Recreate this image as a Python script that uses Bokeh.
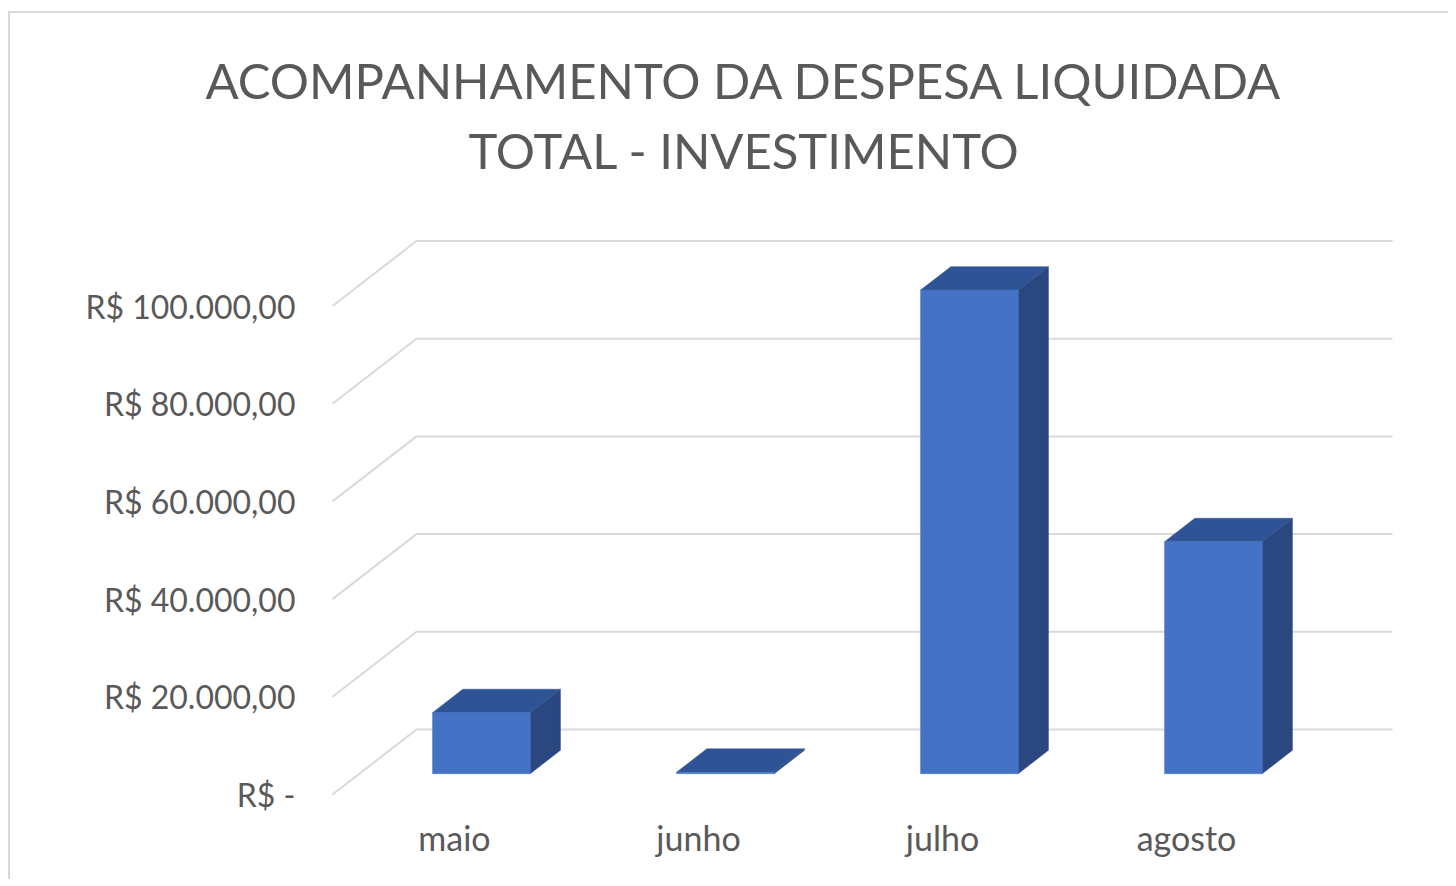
from bokeh.plotting import figure
from bokeh.models import FixedTicker, Title
from bokeh.embed import file_html
from bokeh.resources import INLINE

# ---------------- data ----------------
meses = ["maio", "junho", "julho", "agosto"]
despesa = [12500, 300, 99000, 47500]
y_ticks = [0, 20000, 40000, 60000, 80000, 100000]
titulo = ["ACOMPANHAMENTO DA DESPESA LIQUIDADA", "TOTAL - INVESTIMENTO"]


def brl(v):
    if v == 0:
        return "R$ -"
    s = f"{v:,.2f}".replace(",", "X").replace(".", ",").replace("X", ".")
    return "R$ " + s


y_tick_labels = [brl(v) for v in y_ticks]

# ---------------- geometry (pseudo-3D projection) ----------------
PX_PER_CAT = 244.0
UNITS_PER_PX = 20000 / 97.7
DEPTH_X = 84 / PX_PER_CAT          # full floor depth, x shift (category units)
DEPTH_Y = 65 * UNITS_PER_PX        # full floor depth, y shift (value units)
D0, D1 = 0.32, 0.68                # bar depth span
HALF_W = 0.20
FRONT_LEFT_PAGE = 332
ZERO_PAGE = 794
OFFX, OFFY = 10, 13                # canvas origin on the page

FRAME_L, FRAME_R, FRAME_T, FRAME_B = 308, 1420, 188, 800


def ux(px):
    return (px - FRONT_LEFT_PAGE) / PX_PER_CAT - 0.5


def vy(py):
    return (ZERO_PAGE - py) * UNITS_PER_PX


W, H = 1440, 868
p = figure(width=W, height=H, output_backend="svg", toolbar_location=None,
           x_range=(ux(FRAME_L), ux(FRAME_R)), y_range=(vy(FRAME_B), vy(FRAME_T)),
           min_border_left=FRAME_L - OFFX, min_border_right=W - (FRAME_R - OFFX),
           min_border_top=FRAME_T - OFFY, min_border_bottom=H - (FRAME_B - OFFY))
p.outline_line_color = None
p.background_fill_color = "white"
p.border_fill_color = "white"
p.xgrid.visible = False
p.ygrid.visible = False
p.styles = {"border-top": "2px solid #D9D9D9", "border-left": "2px solid #D9D9D9",
            "margin-top": "11px", "margin-left": "8px"}

# gridlines: front diagonal + back wall line
n = len(meses)
gx, gy = [], []
for v in y_ticks:
    gx.append([-0.5, -0.5 + DEPTH_X, n - 0.5 + DEPTH_X])
    gy.append([v, v + DEPTH_Y, v + DEPTH_Y])
p.multi_line(gx, gy, line_color="#D9D9D9", line_width=2)

# bars
ddx = (D1 - D0) * DEPTH_X
ddy = (D1 - D0) * DEPTH_Y
fx, fy, sx, sy, tx, ty = [], [], [], [], [], []
for i, h in enumerate(despesa):
    xl = i - HALF_W + D0 * DEPTH_X
    xr = i + HALF_W + D0 * DEPTH_X
    yb = D0 * DEPTH_Y
    yt = yb + h
    fx.append([xl, xr, xr, xl]); fy.append([yb, yb, yt, yt])
    sx.append([xr, xr + ddx, xr + ddx, xr]); sy.append([yb, yb + ddy, yt + ddy, yt])
    tx.append([xl, xr, xr + ddx, xl + ddx]); ty.append([yt, yt, yt + ddy, yt + ddy])

p.patches(sx, sy, fill_color="#2A4780", line_color="#2A4780", line_width=0.5)
p.patches(tx, ty, fill_color="#2F5496", line_color="#2F5496", line_width=0.5)
p.patches(fx, fy, fill_color="#4472C4", line_color="#4472C4", line_width=0.5)

# axes
for ax in (p.xaxis, p.yaxis):
    ax.axis_line_color = None
    ax.major_tick_line_color = None
    ax.minor_tick_line_color = None
    ax.major_tick_out = 0
    ax.major_tick_in = 0
    ax.minor_tick_out = 0
    ax.major_label_text_color = "#595959"
    ax.major_label_text_font = "Lato"

p.yaxis.ticker = FixedTicker(ticks=y_ticks)
p.yaxis.major_label_overrides = {v: lab for v, lab in zip(y_ticks, y_tick_labels)}
p.yaxis.major_label_text_font_size = "32px"
p.yaxis.major_label_standoff = 13

p.xaxis.ticker = FixedTicker(ticks=list(range(n)))
p.xaxis.major_label_overrides = {i: m for i, m in enumerate(meses)}
p.xaxis.major_label_text_font_size = "34px"
p.xaxis.major_label_standoff = 16

# title: two stacked lines, left-aligned with offsets so each is centred at page x ~741
p.add_layout(Title(text=titulo[1], align="left", offset=468 - FRAME_L, standoff=20,
                   text_font="Lato", text_font_size="49px", text_font_style="normal",
                   text_color="#595959"), "above")
p.add_layout(Title(text=titulo[0], align="left", offset=205 - FRAME_L, standoff=0,
                   text_font="Lato", text_font_size="49px", text_font_style="normal",
                   text_color="#595959"), "above")

open("out.html", "w").write(file_html(p, INLINE))
